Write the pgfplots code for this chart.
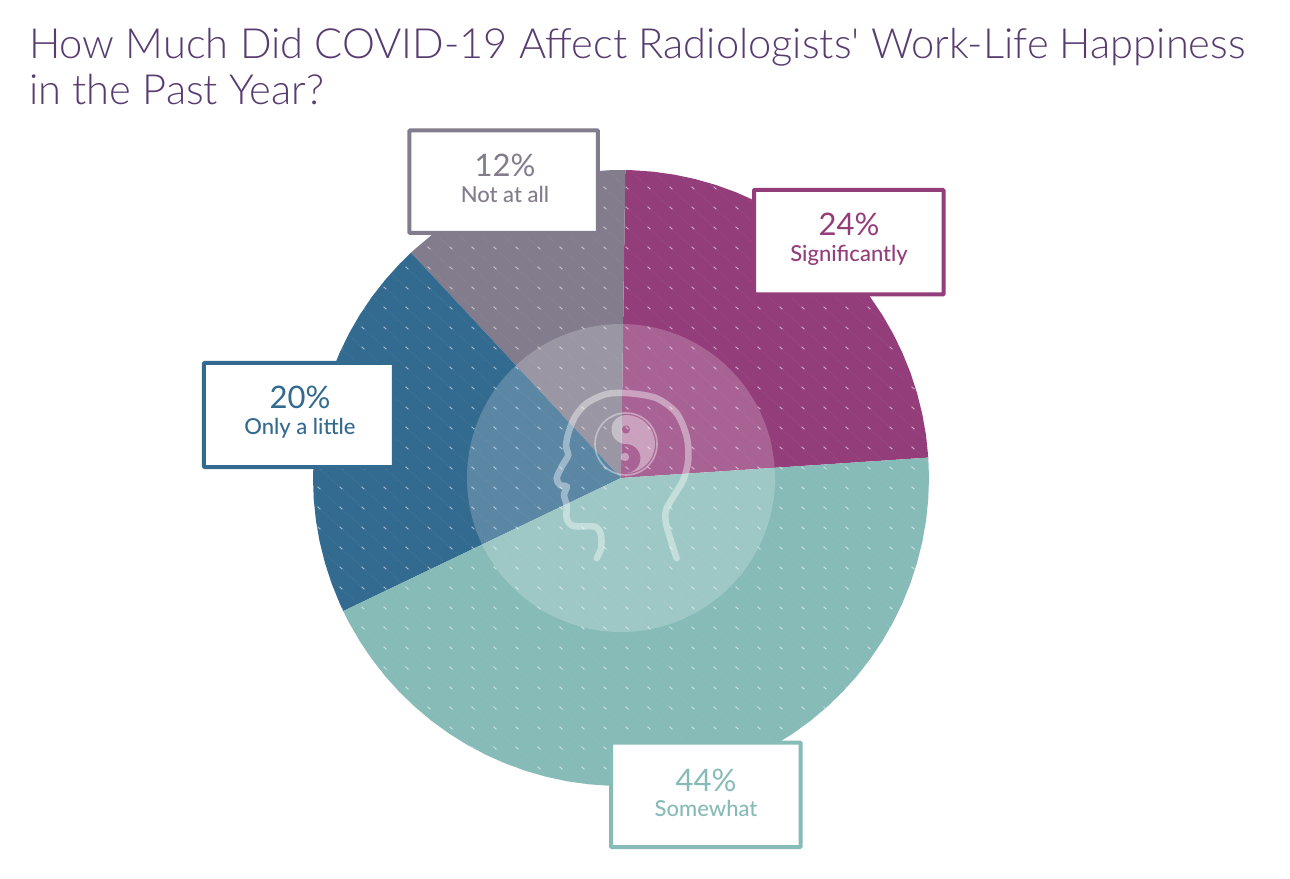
\documentclass[border=0pt]{standalone}
\usepackage{fontspec}
\setmainfont{Lato}
\newfontfamily\lightfont{Lato Light}
\newfontfamily\mediumfont{Lato Medium}
\usepackage{pgfplots}
\pgfplotsset{compat=1.18}
\usetikzlibrary{patterns}

\definecolor{sigcol}{RGB}{147,61,122}
\definecolor{somecol}{RGB}{134,187,183}
\definecolor{litcol}{RGB}{51,106,143}
\definecolor{notcol}{RGB}{130,124,140}
\definecolor{titlecol}{RGB}{88,60,112}

% faint dotted diagonals and the brighter dash on them
\pgfdeclarepatternformonly{piefaint}{\pgfqpoint{-1pt}{-1pt}}{\pgfqpoint{23pt}{21pt}}{\pgfqpoint{22pt}{20pt}}{%
  \pgfsetlinewidth{0.5pt}\pgfsetdash{{1pt}{2pt}}{0pt}%
  \pgfpathmoveto{\pgfqpoint{0pt}{20pt}}\pgfpathlineto{\pgfqpoint{22pt}{0pt}}\pgfusepath{stroke}}
\pgfdeclarepatternformonly{piedash}{\pgfqpoint{8pt}{7pt}}{\pgfqpoint{14pt}{13pt}}{\pgfqpoint{22pt}{20pt}}{%
  \pgfsetlinewidth{1pt}%
  \pgfpathmoveto{\pgfqpoint{9.6pt}{11.3pt}}\pgfpathlineto{\pgfqpoint{12.4pt}{8.7pt}}\pgfusepath{stroke}}

\tikzset{
  pieslice/.style={draw=none, fill=#1,
    postaction={pattern=piefaint, pattern color=#1!88!white},
    postaction={pattern=piedash, pattern color=#1!45!white}},
  labelbox/.style={draw=#1, line width=4pt, fill=white, rounded corners=0.8pt},
  bigpct/.style={text=#1, anchor=base, font=\fontsize{31}{31}\selectfont},
  smalllab/.style={text=#1, anchor=base, font=\fontsize{22}{22}\selectfont\mediumfont},
}

\begin{document}
\begin{tikzpicture}
\begin{axis}[
    x=1pt, y=1pt,
    xmin=-621, xmax=669,
    ymin=-400, ymax=478,
    hide axis, clip=false,
    anchor=origin, at={(0,0)},
  ]
  % slices, angle in degrees and radius
  \addplot[pieslice=sigcol, data cs=polar] coordinates {(0,0) (3.8,308) (8,308) (12,308) (16,308) (20,308) (24,308) (28,308) (32,308) (36,308) (40,308) (44,308) (48,308) (52,308) (56,308) (60,308) (64,308) (68,308) (72,308) (76,308) (80,308) (84,308) (88,308) (89.2,308) (0,0)};
  \addplot[pieslice=notcol, data cs=polar] coordinates {(0,0) (89.2,308) (92,308) (96,308) (100,308) (104,308) (108,308) (112,308) (116,308) (120,308) (124,308) (128,308) (132,308) (133,308) (0,0)};
  \addplot[pieslice=litcol, data cs=polar] coordinates {(0,0) (133,308) (136,308) (140,308) (144,308) (148,308) (152,308) (156,308) (160,308) (164,308) (168,308) (172,308) (176,308) (180,308) (184,308) (188,308) (192,308) (196,308) (200,308) (204,308) (205.6,308) (0,0)};
  \addplot[pieslice=somecol, data cs=polar] coordinates {(0,0) (205.6,308) (208,308) (212,308) (216,308) (220,308) (224,308) (228,308) (232,308) (236,308) (240,308) (244,308) (248,308) (252,308) (256,308) (260,308) (264,308) (268,308) (272,308) (276,308) (280,308) (284,308) (288,308) (292,308) (296,308) (300,308) (304,308) (308,308) (312,308) (316,308) (320,308) (324,308) (328,308) (332,308) (336,308) (340,308) (344,308) (348,308) (352,308) (356,308) (360,308) (363.8,308) (0,0)};

  % centre disc
  \fill[white, opacity=0.2] (axis cs:0,0) circle[radius=154pt];

  % head outline
  \addplot[white, opacity=0.4, line width=6.5pt, smooth, line cap=round, tension=0.5] coordinates {
    (55.7,-80.3) (50.7,-65.3) (45,-45.3) (45,-32) (52.3,-18.7) (62.3,-2) (67.3,18) (65.7,41.3)
    (55.7,64.7) (35.7,79.7) (9,84.7) (-14.3,84) (-34.3,74.7) (-46,61.3) (-52.7,44.7) (-55,31.3)
    (-52.7,23) (-59.3,11.3) (-64.3,-0.3) (-61,-7) (-54.3,-8.7) (-57,-17) (-54.3,-27) (-54.3,-40.3)
    (-47.7,-48) (-26,-48.7) (-20,-57) (-20,-70.3) (-24.3,-80.3)};

  % yin-yang
  \draw[white, opacity=0.4, line width=1.6pt] (axis cs:5,34) circle[radius=31pt];
  \fill[white, opacity=0.4, even odd rule]
    (axis cs:5,63) arc[start angle=90, end angle=-90, radius=29pt]
    arc[start angle=-90, end angle=90, radius=14.5pt]
    arc[start angle=-90, end angle=-270, radius=14.5pt] -- cycle
    (axis cs:5,48.5) circle[radius=4.2pt];
  \fill[white, opacity=0.4] (axis cs:4,21) circle[radius=4.2pt];

  % label boxes
  \draw[labelbox=notcol] (axis cs:-211.5,347.5) rectangle (axis cs:-23,245);
  \node[bigpct=notcol] at (axis cs:-116,301) {12\%};
  \node[smalllab=notcol] at (axis cs:-116,275) {Not at all};

  \draw[labelbox=sigcol] (axis cs:133,288) rectangle (axis cs:322.5,183.5);
  \node[bigpct=sigcol] at (axis cs:228,242) {24\%};
  \node[smalllab=sigcol] at (axis cs:228,216) {Significantly};

  \draw[labelbox=litcol] (axis cs:-417,115) rectangle (axis cs:-227,11);
  \node[bigpct=litcol] at (axis cs:-321,69) {20\%};
  \node[smalllab=litcol] at (axis cs:-321,43) {Only a little};

  \draw[labelbox=somecol] (axis cs:-10,-264.5) rectangle (axis cs:179.5,-369);
  \node[bigpct=somecol] at (axis cs:85,-313) {44\%};
  \node[smalllab=somecol] at (axis cs:85,-338) {Somewhat};

  % title
  \node[anchor=base west, text=titlecol, font=\fontsize{41.6}{46}\selectfont\lightfont, inner sep=0pt] at (axis cs:-592,419.5) {How Much Did COVID-19 Affect Radiologists' Work-Life Happiness};
  \node[anchor=base west, text=titlecol, font=\fontsize{41.6}{46}\selectfont\lightfont, inner sep=0pt] at (axis cs:-592,373.5) {in the Past Year?};
\end{axis}
\path[use as bounding box] (-621pt,-400pt) rectangle (669pt,478pt);
\end{tikzpicture}
\end{document}
